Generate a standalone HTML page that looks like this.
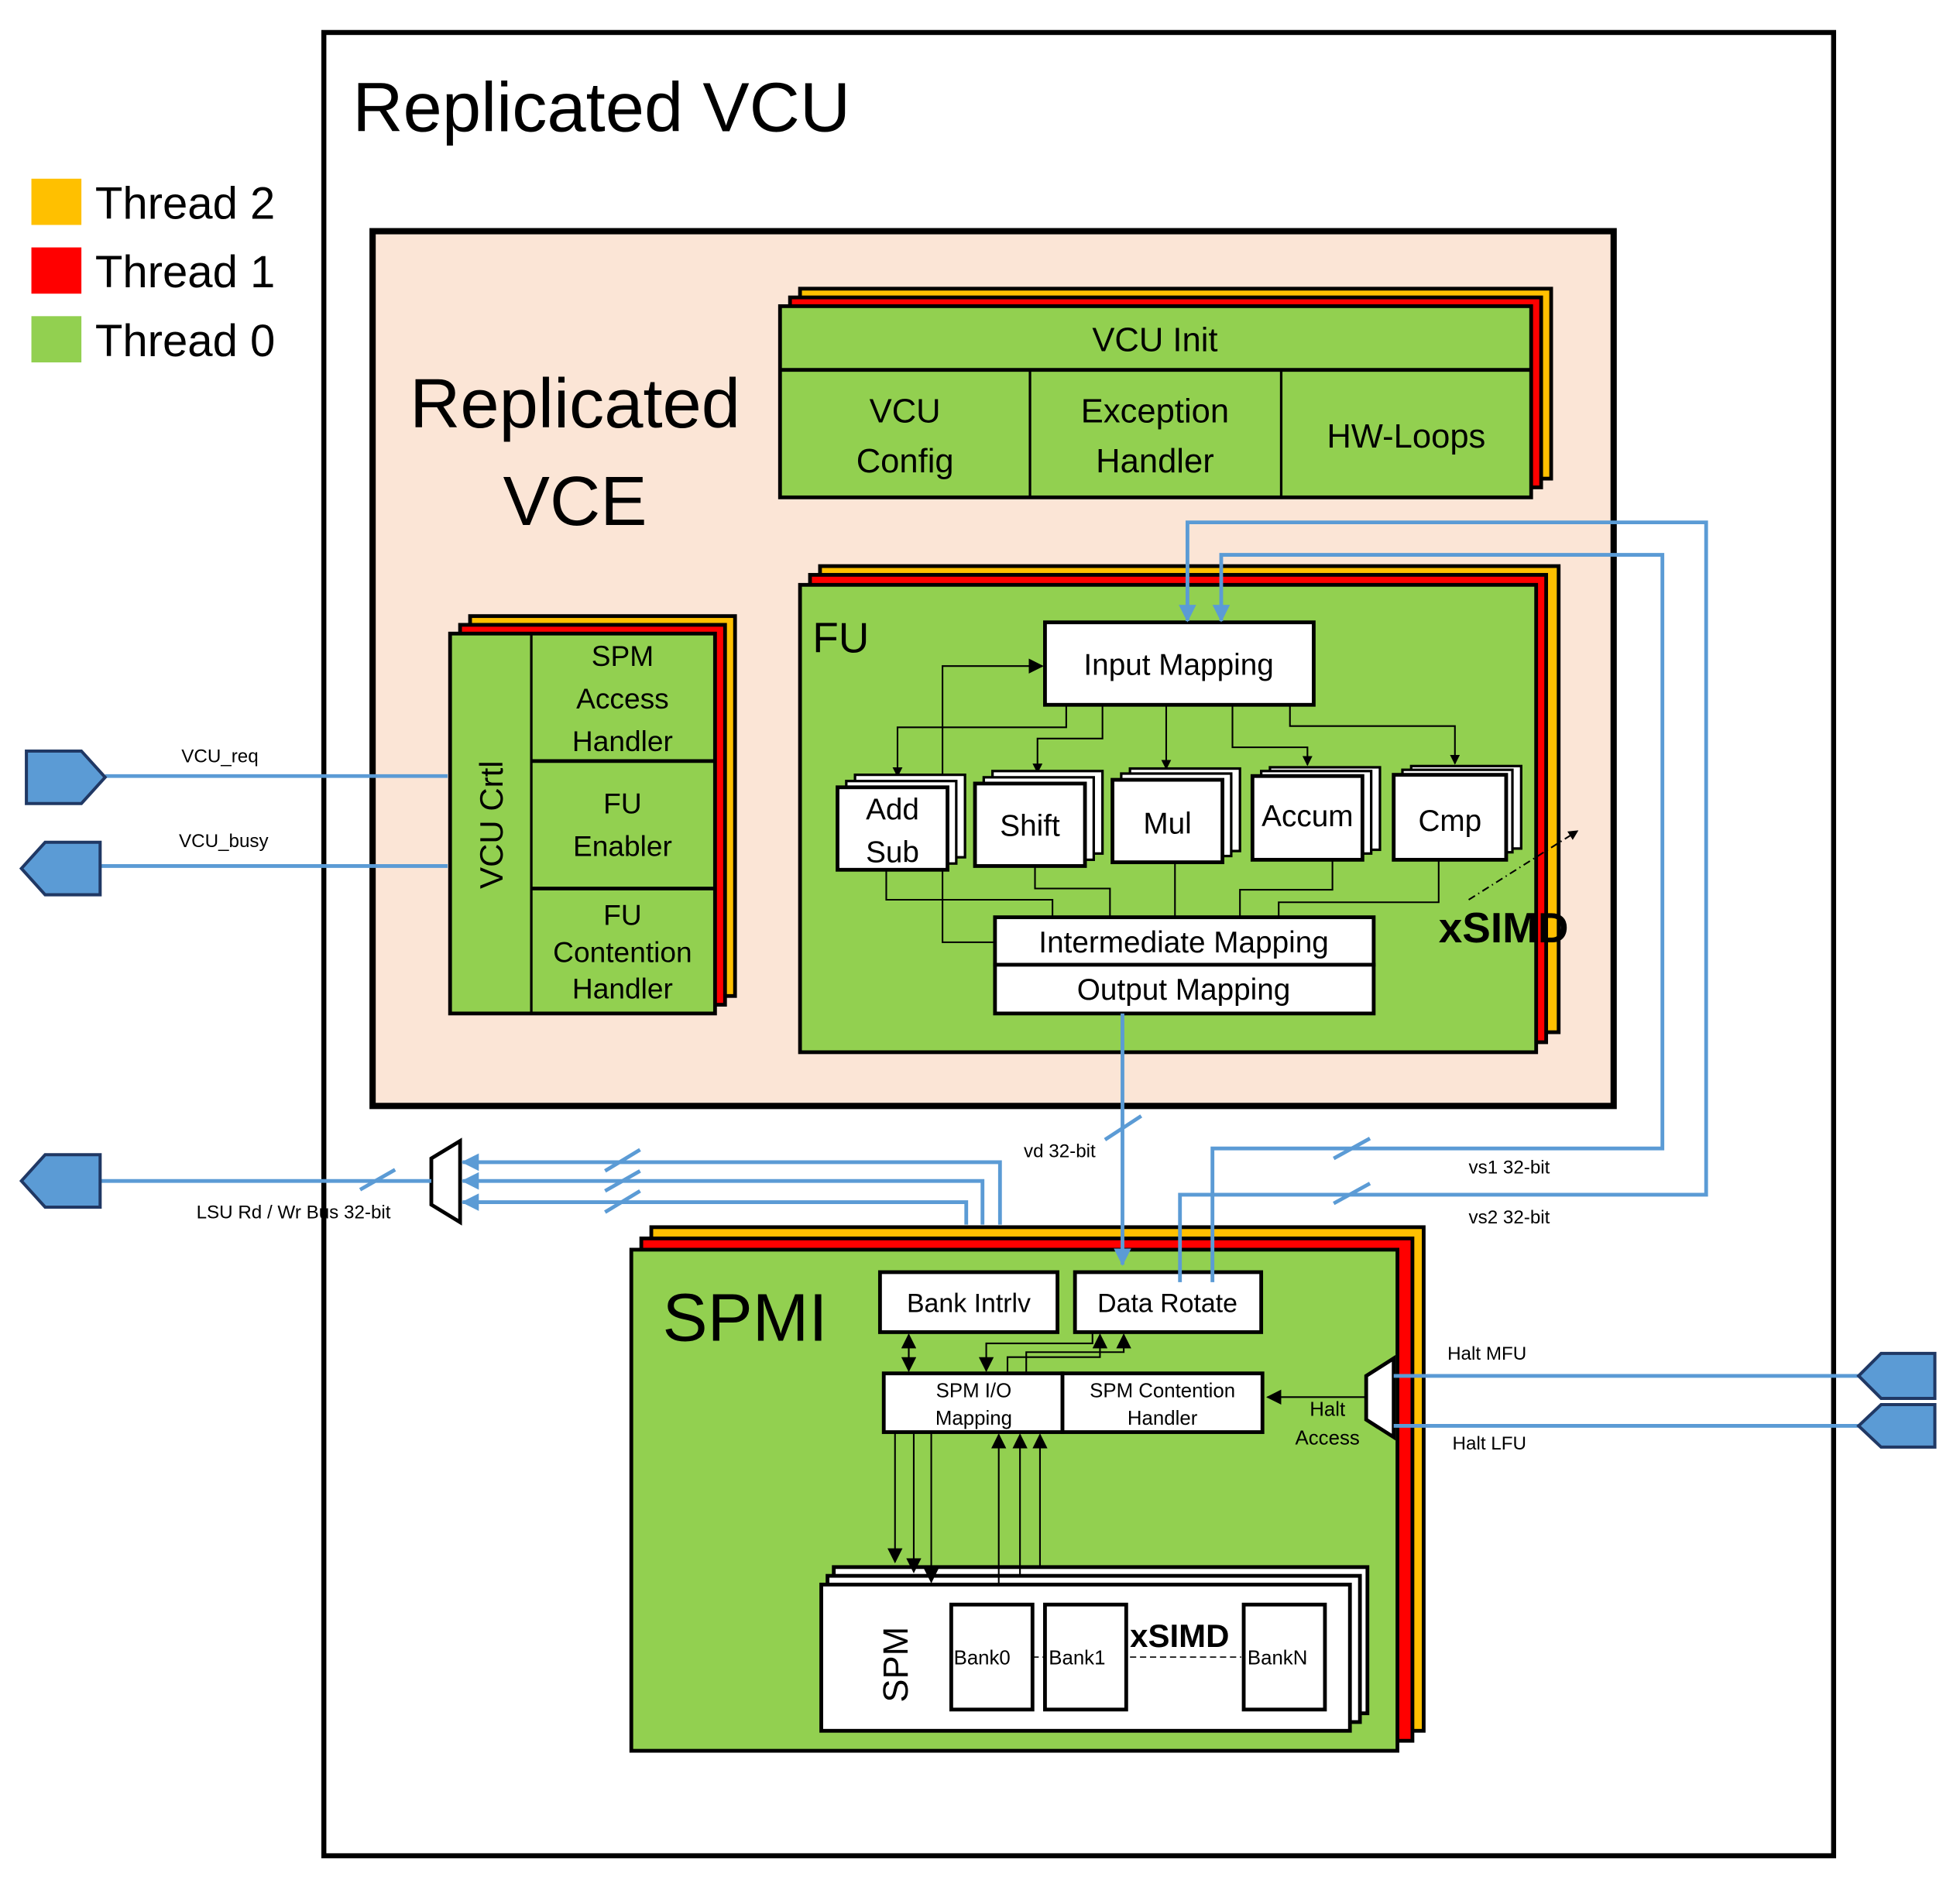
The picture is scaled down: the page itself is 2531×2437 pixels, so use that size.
<!DOCTYPE html>
<html><head><meta charset="utf-8"><style>html,body{margin:0;padding:0;background:#fff}svg{display:block}text{font-family:"Liberation Sans",sans-serif}</style></head><body>
<svg width="2531" height="2437" viewBox="0 0 1568 1510" xmlns="http://www.w3.org/2000/svg">
<defs>
<marker id="ab" markerWidth="8" markerHeight="8" refX="7" refY="4" orient="auto" markerUnits="userSpaceOnUse"><path d="M0,0 L8,4 L0,8Z" fill="#000"/></marker>
<marker id="abl" markerWidth="14" markerHeight="14" refX="13" refY="7" orient="auto" markerUnits="userSpaceOnUse"><path d="M0,0 L14,7 L0,14Z" fill="#5B9BD5"/></marker>
<marker id="as" markerWidth="12" markerHeight="12" refX="11" refY="6" orient="auto" markerUnits="userSpaceOnUse"><path d="M0,0 L12,6 L0,12Z" fill="#000"/></marker>
</defs>
<rect width="1568" height="1510" fill="#fff"/>
<!-- legend -->
<rect x="25" y="143" width="40" height="37" fill="#FFC000"/>
<rect x="25" y="198" width="40" height="37" fill="#FF0000"/>
<rect x="25" y="253" width="40" height="37" fill="#92D050"/>
<text x="76" y="175" font-size="36">Thread 2</text>
<text x="76" y="230" font-size="36">Thread 1</text>
<text x="76" y="285" font-size="36">Thread 0</text>
<!-- outer -->
<rect x="259" y="26" width="1208" height="1459" fill="none" stroke="#000" stroke-width="4"/>
<text x="282" y="105" font-size="56">Replicated VCU</text>
<!-- VCE -->
<rect x="298" y="185" width="993" height="700" fill="#FBE5D6" stroke="#000" stroke-width="5"/>
<text x="460" y="342" font-size="56" text-anchor="middle">Replicated</text>
<text x="460" y="420" font-size="56" text-anchor="middle">VCE</text>
<!-- VCU Init stack -->
<rect x="640" y="231" width="601" height="152" fill="#FFC000" stroke="#000" stroke-width="3"/>
<rect x="632" y="238" width="601" height="152" fill="#FF0000" stroke="#000" stroke-width="3"/>
<rect x="624" y="245" width="601" height="153" fill="#92D050" stroke="#000" stroke-width="3"/>
<line x1="624" y1="296" x2="1225" y2="296" stroke="#000" stroke-width="3"/>
<line x1="824" y1="296" x2="824" y2="398" stroke="#000" stroke-width="2"/>
<line x1="1025" y1="296" x2="1025" y2="398" stroke="#000" stroke-width="2"/>
<g font-size="27" text-anchor="middle">
<text x="924" y="281">VCU Init</text>
<text x="724" y="338">VCU</text><text x="724" y="378">Config</text>
<text x="924" y="338">Exception</text><text x="924" y="378">Handler</text>
<text x="1125" y="358">HW-Loops</text>
</g>
<!-- VCU Crtl stack -->
<rect x="376" y="493" width="212" height="304" fill="#FFC000" stroke="#000" stroke-width="3"/>
<rect x="368" y="500" width="212" height="304" fill="#FF0000" stroke="#000" stroke-width="3"/>
<rect x="360" y="507" width="212" height="304" fill="#92D050" stroke="#000" stroke-width="3"/>
<line x1="425" y1="507" x2="425" y2="811" stroke="#000" stroke-width="2"/>
<line x1="425" y1="609" x2="572" y2="609" stroke="#000" stroke-width="3"/>
<line x1="425" y1="711" x2="572" y2="711" stroke="#000" stroke-width="3"/>
<text transform="translate(402,660) rotate(-90)" font-size="26" text-anchor="middle">VCU Crtl</text>
<g font-size="23" text-anchor="middle">
<text x="498" y="533">SPM</text><text x="498" y="567">Access</text><text x="498" y="601">Handler</text>
<text x="498" y="651">FU</text><text x="498" y="685">Enabler</text>
<text x="498" y="740">FU</text><text x="498" y="770">Contention</text><text x="498" y="799">Handler</text>
</g>
<!-- FU stack -->
<rect x="656" y="453" width="591" height="373" fill="#FFC000" stroke="#000" stroke-width="3"/>
<rect x="648" y="460" width="589" height="374" fill="#FF0000" stroke="#000" stroke-width="3"/>
<rect x="640" y="468" width="589" height="374" fill="#92D050" stroke="#000" stroke-width="3"/>
<text x="650" y="522" font-size="34">FU</text>
<rect x="836" y="498" width="215" height="66" fill="#fff" stroke="#000" stroke-width="3"/>
<text x="943" y="540" font-size="24" text-anchor="middle">Input Mapping</text>
<!-- FU connectors -->
<g fill="none" stroke="#000" stroke-width="1.3">
<path d="M853,564 V582 H718 V621" marker-end="url(#ab)"/>
<path d="M882,564 V591 H830 V618" marker-end="url(#ab)"/>
<path d="M933,564 V615" marker-end="url(#ab)"/>
<path d="M986,564 V598 H1046 V612" marker-end="url(#ab)"/>
<path d="M1032,564 V581 H1164 V611" marker-end="url(#ab)"/>
<path d="M796,754 H754 V533 H834" marker-end="url(#as)"/>
<path d="M709,696 V720 H842 V734"/>
<path d="M828,693 V711 H888 V734"/>
<path d="M940,690 V734"/>
<path d="M1066,688 V712 H992 V734"/>
<path d="M1151,688 V722 H1023 V734"/>
<path d="M1175,720 L1262,665" stroke-dasharray="6,3,1,3" marker-end="url(#ab)"/>
</g>
<!-- units -->
<g fill="#fff" stroke="#000" stroke-width="3">
<rect x="684" y="620" width="88" height="66" stroke-width="2"/><rect x="677" y="625" width="88" height="66" stroke-width="2"/><rect x="670" y="630" width="88" height="66"/>
<rect x="794" y="617" width="88" height="66" stroke-width="2"/><rect x="787" y="622" width="88" height="66" stroke-width="2"/><rect x="780" y="627" width="88" height="66"/>
<rect x="904" y="615" width="88" height="66" stroke-width="2"/><rect x="897" y="619" width="88" height="66" stroke-width="2"/><rect x="890" y="624" width="88" height="66"/>
<rect x="1016" y="614" width="88" height="66" stroke-width="2"/><rect x="1009" y="617" width="88" height="66" stroke-width="2"/><rect x="1002" y="621" width="88" height="67"/>
<rect x="1129" y="613" width="88" height="66" stroke-width="2"/><rect x="1122" y="616" width="88" height="66" stroke-width="2"/><rect x="1115" y="620" width="90" height="68"/>
</g>
<g font-size="24" text-anchor="middle">
<text x="714" y="656">Add</text><text x="714" y="690">Sub</text>
<text x="824" y="669">Shift</text>
<text x="934" y="667">Mul</text>
<text x="1046" y="661">Accum</text>
<text x="1160" y="665">Cmp</text>
</g>
<rect x="796" y="734" width="303" height="38" fill="#fff" stroke="#000" stroke-width="3"/>
<rect x="796" y="772" width="303" height="39" fill="#fff" stroke="#000" stroke-width="3"/>
<text x="947" y="762" font-size="24" text-anchor="middle">Intermediate Mapping</text>
<text x="947" y="800" font-size="24" text-anchor="middle">Output Mapping</text>
<text x="1151" y="754" font-size="34" font-weight="bold">xSIMD</text>
<!-- SPMI stack -->
<rect x="521" y="982" width="618" height="403" fill="#FFC000" stroke="#000" stroke-width="3"/>
<rect x="513" y="991" width="617" height="402" fill="#FF0000" stroke="#000" stroke-width="3"/>
<rect x="505" y="1000" width="613" height="401" fill="#92D050" stroke="#000" stroke-width="3"/>
<text x="530" y="1073" font-size="54">SPMI</text>
<rect x="704" y="1018" width="142" height="48" fill="#fff" stroke="#000" stroke-width="3"/>
<rect x="860" y="1018" width="149" height="48" fill="#fff" stroke="#000" stroke-width="3"/>
<text x="775" y="1050" font-size="21" text-anchor="middle">Bank Intrlv</text>
<text x="934" y="1050" font-size="21" text-anchor="middle">Data Rotate</text>
<rect x="707" y="1099" width="143" height="47" fill="#fff" stroke="#000" stroke-width="3"/>
<rect x="850" y="1099" width="160" height="47" fill="#fff" stroke="#000" stroke-width="3"/>
<g font-size="16" text-anchor="middle">
<text x="779" y="1118">SPM I/O</text><text x="779" y="1140">Mapping</text>
<text x="930" y="1118">SPM Contention</text><text x="930" y="1140">Handler</text>
<text x="1062" y="1133">Halt</text><text x="1062" y="1156">Access</text>
</g>
<!-- SPM -->
<rect x="667" y="1254" width="427" height="117" fill="#fff" stroke="#000" stroke-width="3"/>
<rect x="662" y="1261" width="426" height="117" fill="#fff" stroke="#000" stroke-width="3"/>
<rect x="657" y="1268" width="423" height="117" fill="#fff" stroke="#000" stroke-width="3"/>
<text transform="translate(726,1332) rotate(-90)" font-size="28" text-anchor="middle">SPM</text>
<rect x="761" y="1284" width="65" height="84" fill="#fff" stroke="#000" stroke-width="3"/>
<rect x="836" y="1284" width="65" height="84" fill="#fff" stroke="#000" stroke-width="3"/>
<rect x="995" y="1284" width="65" height="84" fill="#fff" stroke="#000" stroke-width="3"/>
<g font-size="16"><text x="763" y="1332">Bank0</text><text x="839" y="1332">Bank1</text><text x="998" y="1332">BankN</text></g>
<text x="904" y="1318" font-size="26" font-weight="bold">xSIMD</text>
<g stroke="#000" stroke-width="1" stroke-dasharray="5,3"><line x1="826" y1="1326" x2="836" y2="1326"/><line x1="904" y1="1326" x2="993" y2="1326"/></g>
<!-- SPMI connectors -->
<g fill="none" stroke="#000" stroke-width="1.3">
<path d="M727,1078 V1097" marker-end="url(#as)"/><path d="M727,1086 V1068" marker-end="url(#as)"/>
<path d="M874,1066 V1075 H789 V1097" marker-end="url(#as)"/>
<path d="M806,1099 V1086 H880 V1068" marker-end="url(#as)"/>
<path d="M821,1099 V1082 H899 V1068" marker-end="url(#as)"/>
<path d="M1093,1118 H1014" marker-end="url(#as)"/>
<path d="M716,1146 V1250" marker-end="url(#as)"/>
<path d="M731,1146 V1258" marker-end="url(#as)"/>
<path d="M745,1146 V1266" marker-end="url(#as)"/>
<path d="M799,1268 V1148" marker-end="url(#as)"/>
<path d="M816,1261 V1148" marker-end="url(#as)"/>
<path d="M832,1254 V1148" marker-end="url(#as)"/>
</g>
<!-- muxes -->
<path d="M345,927 L368,913 V978 L345,964Z" fill="#fff" stroke="#000" stroke-width="3"/>
<path d="M1093,1101 L1115,1087 V1150 L1093,1136Z" fill="#fff" stroke="#000" stroke-width="3"/>
<!-- blue lines -->
<g fill="none" stroke="#5B9BD5" stroke-width="3">
<path d="M84,621 H358"/>
<path d="M80,693 H358"/>
<path d="M80,945 H345"/>
<path d="M800,980 V930 H370" marker-end="url(#abl)"/>
<path d="M786,980 V945 H370" marker-end="url(#abl)"/>
<path d="M773,980 V962 H370" marker-end="url(#abl)"/>
<path d="M898,811 V1012" marker-end="url(#abl)"/>
<path d="M944,1026 V956 H1365 V418 H950 V497" marker-end="url(#abl)"/>
<path d="M970,1026 V919 H1330 V444 H977 V497" marker-end="url(#abl)"/>
<path d="M1115,1101 H1488"/>
<path d="M1115,1141 H1488"/>
<g stroke-width="3"><line x1="288" y1="952" x2="316" y2="936"/><line x1="484" y1="937" x2="512" y2="920"/><line x1="484" y1="953" x2="512" y2="937"/><line x1="484" y1="970" x2="512" y2="953"/><line x1="884" y1="912" x2="913" y2="893"/><line x1="1067" y1="927" x2="1096" y2="911"/><line x1="1067" y1="963" x2="1096" y2="947"/></g>
</g>
<!-- ports -->
<g fill="#5B9BD5" stroke="#203864" stroke-width="2.5">
<path d="M21,601 H65 L84,622 L65,643 H21Z"/>
<path d="M80,674 H36 L17,695 L36,716 H80Z"/>
<path d="M80,924 H36 L17,945 L36,966 H80Z"/>
<path d="M1548,1083 H1505 L1487,1101 L1505,1119 H1548Z"/>
<path d="M1548,1124 H1505 L1487,1141 L1505,1158 H1548Z"/>
</g>
<g font-size="15">
<text x="145" y="610">VCU_req</text>
<text x="143" y="678">VCU_busy</text>
<text x="157" y="975">LSU Rd / Wr Bus 32-bit</text>
<text x="819" y="926">vd 32-bit</text>
<text x="1175" y="939">vs1 32-bit</text>
<text x="1175" y="979">vs2 32-bit</text>
<text x="1158" y="1088">Halt MFU</text>
<text x="1162" y="1160">Halt LFU</text>
</g>
</svg>
</body></html>
